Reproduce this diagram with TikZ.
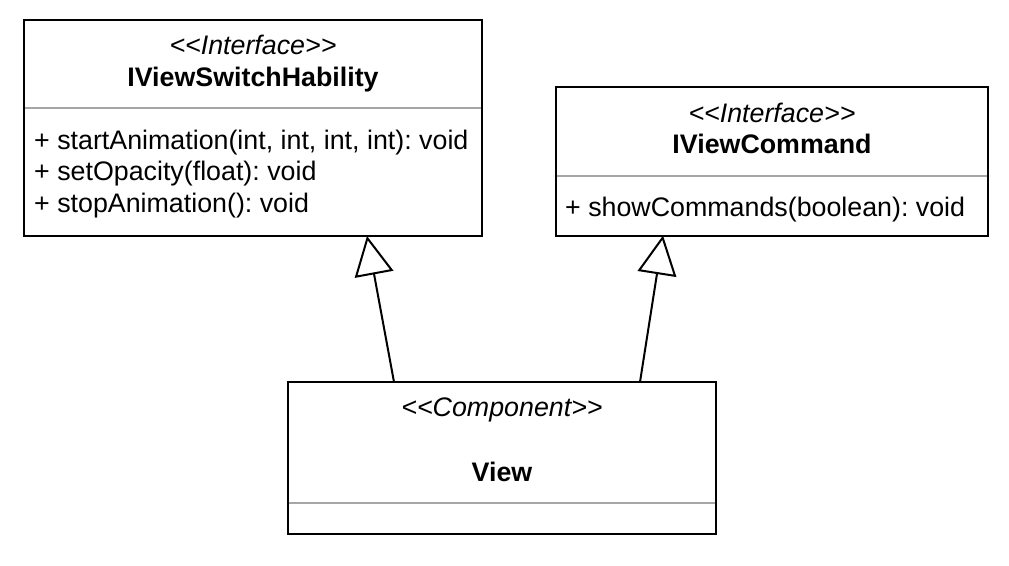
\documentclass[tikz,border=0pt]{standalone}
\usepackage{fontspec}
\setmainfont{Liberation Sans}
\usetikzlibrary{arrows.meta}
\frenchspacing

\begin{document}
\begin{tikzpicture}
	[x=1pt, y=-1pt,
	 classbox/.style={draw, line width=2pt, outer sep=0pt, inner sep=0pt},
	 stereo/.style={anchor=base, inner sep=0pt, font=\fontsize{26.8}{33}\selectfont\itshape},
	 cname/.style={anchor=base, inner sep=0pt, font=\fontsize{26.8}{33}\selectfont\bfseries},
	 attr/.style={anchor=base west, inner sep=0pt, font=\fontsize{26.8}{33}\selectfont},
	 sep/.style={draw=gray!70, line width=1.5pt, shorten <=1pt, shorten >=1pt},
	 extends/.style={line width=2pt, -{Triangle[open, length=39pt, width=39pt]}}]

	\useasboundingbox (0,0) rectangle (1009,565);

	% classes
	\node[classbox, minimum width=458pt, minimum height=216.5pt] (swh) at (253,127.75) {};
	\node[classbox, minimum width=432pt, minimum height=148.5pt] (cmd) at (772,161.25) {};
	\node[classbox, minimum width=428pt, minimum height=152pt]   (view) at (502,458) {};

	% separators
	\draw[sep] (swh.west |- 0,108) -- (swh.east |- 0,108);
	\draw[sep] (cmd.west |- 0,176) -- (cmd.east |- 0,176);
	\draw[sep] (view.west |- 0,503) -- (view.east |- 0,503);

	% IViewSwitchHability
	\node[stereo] (swh-st) at (253,54) {{<}{<}Interface{>}{>}};
	\node[cname]  (swh-nm) at (253,86) {IViewSwitchHability};
	\node[attr] (swh-a1) at (34,149)   {+ startAnimation(int, int, int, int): void};
	\node[attr] (swh-a2) at (34,180.5) {+ setOpacity(float): void};
	\node[attr] (swh-a3) at (34,212.5) {+ stopAnimation(): void};

	% IViewCommand
	\node[stereo] (cmd-st) at (772,122) {{<}{<}Interface{>}{>}};
	\node[cname]  (cmd-nm) at (772,153) {IViewCommand};
	\node[attr] (cmd-a1) at (565,216) {+ showCommands(boolean): void};

	% View
	\node[stereo] (view-st) at (502,416) {{<}{<}Component{>}{>}};
	\node[cname]  (view-nm) at (502,481) {View};

	% realization
	\draw[extends] ([xshift=-108pt]view.north) -- ([xshift=114pt]swh.south);
	\draw[extends] ([xshift=138pt]view.north) -- ([xshift=-109pt]cmd.south);

\end{tikzpicture}
\end{document}
